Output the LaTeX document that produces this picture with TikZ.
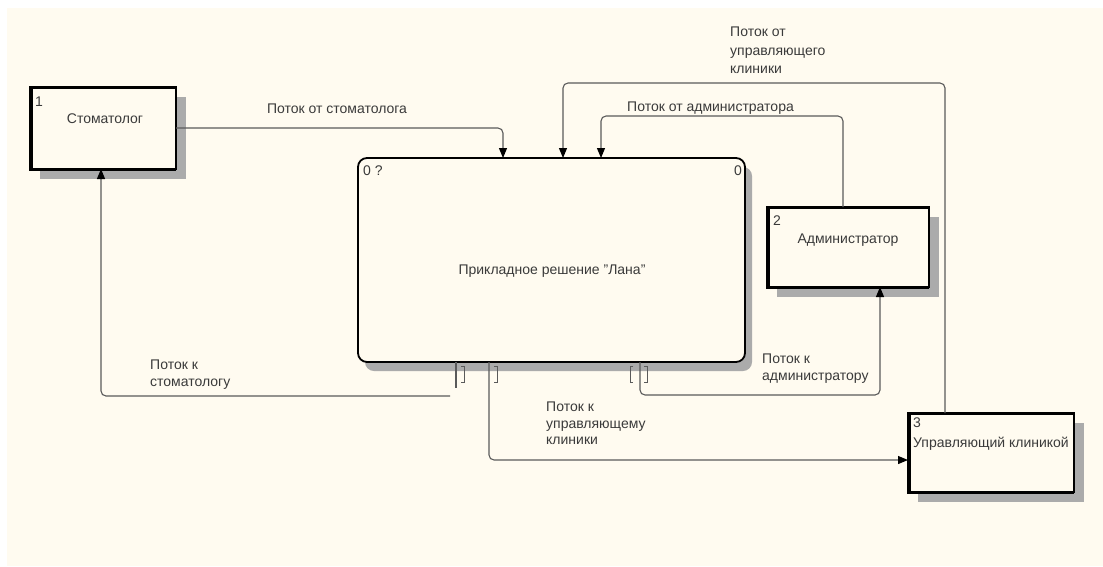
\documentclass[tikz,border=0pt]{standalone}
\usepackage{fontspec}
\setmainfont{Liberation Sans}
\usetikzlibrary{arrows.meta,shadows}
\definecolor{paper}{HTML}{FFFBF0}
\definecolor{ink}{HTML}{3A3A3A}
\definecolor{wire}{HTML}{5A5A5A}
\definecolor{shade}{HTML}{ABABAB}

% heavy top, left and bottom edges of an external entity box
\newcommand\entityframe[1]{%
  \draw[line width=3pt] (#1.north east) -- (#1.north west) -- (#1.south west) -- (#1.south east);
  \draw[line width=4.5pt] ([xshift=0.8pt]#1.north west) -- ([xshift=0.8pt]#1.south west);
}

\begin{document}
\begin{tikzpicture}[x=1pt,y=-1pt,
  font=\fontsize{14}{16.5}\selectfont,
  entity/.style={rectangle, draw=black, line width=1.5pt, fill=paper,
    inner sep=0pt, outer sep=0pt, anchor=north west,
    drop shadow={shadow xshift=10pt, shadow yshift=-10pt, fill=shade, opacity=1}},
  process/.style={rectangle, rounded corners=9pt, draw=black, line width=1.8pt,
    fill=paper, inner sep=0pt, outer sep=0pt, anchor=north west,
    drop shadow={shadow xshift=7pt, shadow yshift=-9pt, fill=shade, opacity=1}},
  lbl/.style={text=ink, inner sep=0pt, align=left},
  flow/.style={draw=wire, line width=1.1pt, rounded corners=5pt,
    -{Triangle[length=10pt,width=8pt,color=black]}},
  wireline/.style={draw=wire, line width=1.1pt, rounded corners=5pt},
  tunnel/.style={draw=wire, line width=0.9pt},
]
\useasboundingbox (0,0) rectangle (1103,566);
\fill[paper] (7,8) rectangle (1103,566);

% process and external entities
\node[process, minimum width=387pt, minimum height=204pt] (main) at (358,158) {};
\node[entity, minimum width=146pt, minimum height=82pt] (stom) at (30,87) {};
\node[entity, minimum width=162pt, minimum height=80pt] (admin) at (767,207) {};
\node[entity, minimum width=166pt, minimum height=79pt] (mgr) at (908,413) {};
\entityframe{stom}
\entityframe{admin}
\entityframe{mgr}

% box texts
\node[lbl, anchor=base] at (552,274) {Прикладное решение "Лана"};
\node[lbl, anchor=base west] at (363,175) {0 ?};
\node[lbl, anchor=base east] at (742,175) {0};
\node[lbl, anchor=base west] at (35,106) {1};
\node[lbl, anchor=base] at (105,123) {Стоматолог};
\node[lbl, anchor=base west] at (773,225) {2};
\node[lbl, anchor=base] at (848,243) {Администратор};
\node[lbl, anchor=base west] at (913,427) {3};
\node[lbl, anchor=base west] at (913,447) {Управляющий клиникой};

% incoming flows
\draw[flow] (stom.east) -| (503,0 |- main.north);
\draw[flow] (843,0 |- admin.north) -- (843,116) -- (601,116) -- (601,0 |- main.north);
\draw[flow] (945,0 |- mgr.north) -- (945,83) -- (563,83) -- (563,0 |- main.north);

% outgoing flows
\draw[wireline] (456,0 |- main.south) -- (456,388);
\draw[flow] (450,396) -- (101,396) -- (101,0 |- stom.south);
\draw[flow] (489,0 |- main.south) -- (489,460) -- (mgr.west |- 0,460);
\draw[flow] (640,0 |- main.south) -- (640,395) -- (880,395) -- (880,0 |- admin.south);

% tunnel brackets
\draw[tunnel] (461,366) -- (464,366) -- (464,382) -- (461,382);
\draw[tunnel] (494,366) -- (497,366) -- (497,382) -- (494,382);
\draw[tunnel] (633,366) -- (630,366) -- (630,382) -- (633,382);
\draw[tunnel] (644,366) -- (647,366) -- (647,382) -- (644,382);

% flow labels
\node[lbl, anchor=base] at (337,113) {Поток от стоматолога};
\node[lbl, anchor=base west] at (627,111) {Поток от администратора};
\node[lbl, anchor=north west, font=\fontsize{14}{18.5}\selectfont] at (730,27) {Поток от\\управляющего\\клиники};
\node[lbl, anchor=north west] at (150,360) {Поток к\\стоматологу};
\node[lbl, anchor=north west] at (546,402) {Поток к\\управляющему\\клиники};
\node[lbl, anchor=north west] at (762,354) {Поток к\\администратору};
\end{tikzpicture}
\end{document}
